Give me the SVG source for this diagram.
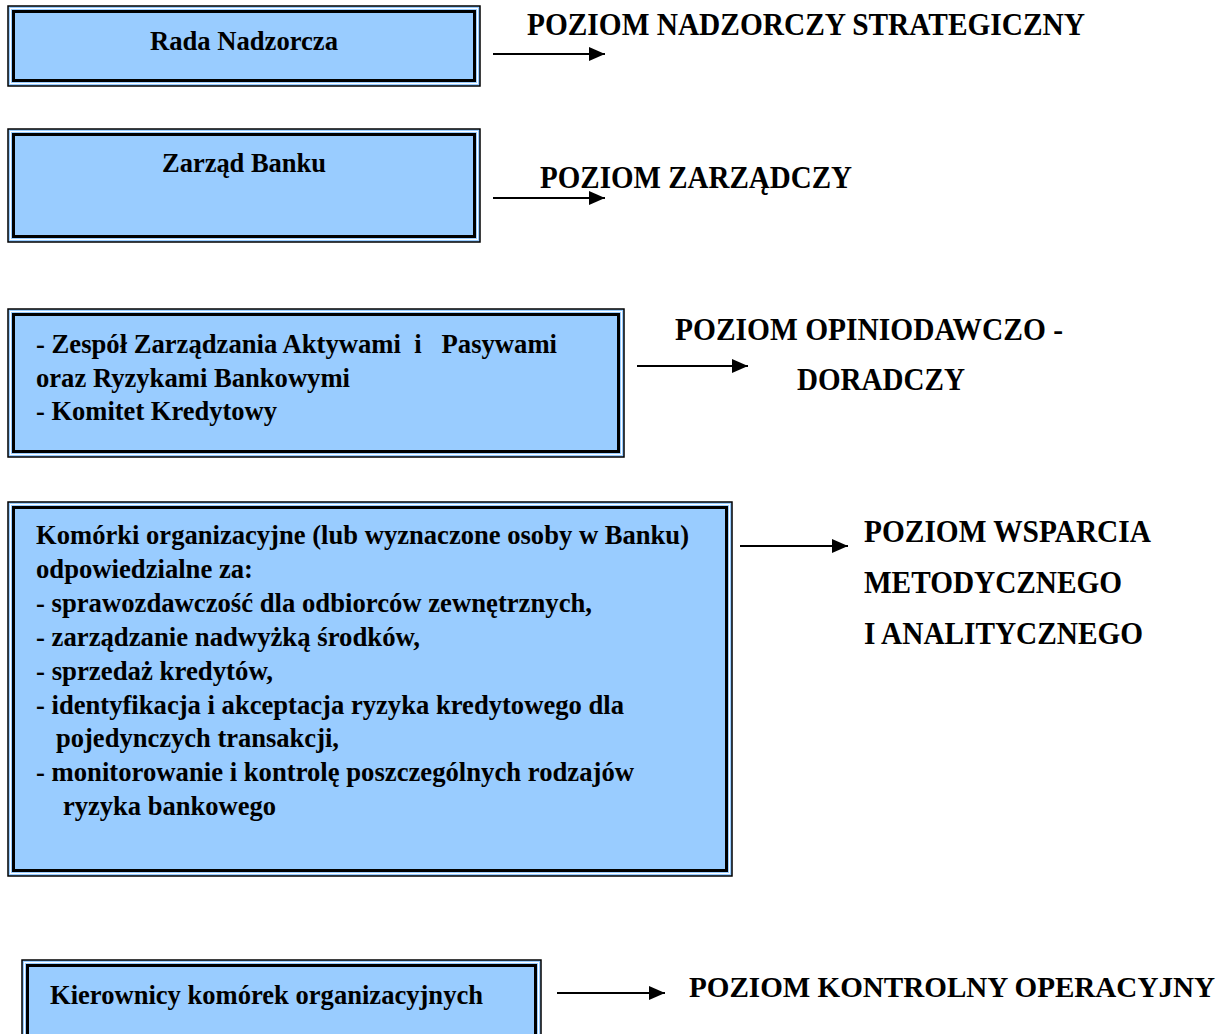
<svg xmlns="http://www.w3.org/2000/svg" width="1230" height="1034" viewBox="0 0 1230 1034">
<style>
.outer{fill:#99CCFF;stroke:#000;stroke-width:1.5}
.inner{fill:none;stroke:#000;stroke-width:3}
.gap{fill:none;stroke:#ffffff;stroke-width:1}
.bt{font-family:'Liberation Serif','Times New Roman',serif;font-weight:bold;font-size:27.5px;fill:#000}
.lt{font-family:'Liberation Serif','Times New Roman',serif;font-weight:bold;font-size:30.5px;fill:#000}
.conn line{stroke:#000;stroke-width:2;marker-end:url(#ah)}
</style>
<defs>
<marker id="ah" markerUnits="userSpaceOnUse" markerWidth="17" markerHeight="14" refX="16" refY="7" orient="auto">
<path d="M0,0 L16,7 L0,14 z" fill="#000"/>
</marker>
</defs>
<rect width="1230" height="1034" fill="#fff"/>

<g id="rada">
<rect class="outer" x="8" y="6" width="472" height="80"/>
<rect class="gap" x="10.5" y="8.5" width="467" height="75"/>
<rect class="inner" x="13.5" y="11.5" width="461" height="69"/>
<text class="bt" x="150" y="49.5" textLength="188" lengthAdjust="spacingAndGlyphs">Rada Nadzorcza</text>
</g>

<g id="zarzad">
<rect class="outer" x="8" y="129" width="472" height="113"/>
<rect class="gap" x="10.5" y="131.5" width="467" height="108"/>
<rect class="inner" x="13.5" y="134.5" width="461" height="102"/>
<text class="bt" x="162" y="171.5" textLength="164" lengthAdjust="spacingAndGlyphs">Zarząd Banku</text>
</g>

<g id="zespol">
<rect class="outer" x="8" y="309" width="616" height="148"/>
<rect class="gap" x="10.5" y="311.5" width="611" height="143"/>
<rect class="inner" x="13.5" y="314.5" width="605" height="137"/>
<text class="bt" x="36" y="352.5" xml:space="preserve" textLength="521" lengthAdjust="spacingAndGlyphs">- Zespół Zarządzania Aktywami  i   Pasywami</text>
<text class="bt" x="36" y="386.5" textLength="314" lengthAdjust="spacingAndGlyphs">oraz Ryzykami Bankowymi</text>
<text class="bt" x="36" y="419.5" textLength="241" lengthAdjust="spacingAndGlyphs">- Komitet Kredytowy</text>
</g>

<g id="komorki">
<rect class="outer" x="8" y="502" width="724" height="374"/>
<rect class="gap" x="10.5" y="504.5" width="719" height="369"/>
<rect class="inner" x="13.5" y="507.5" width="713" height="363"/>
<text class="bt" x="36" y="543.5" textLength="653" lengthAdjust="spacingAndGlyphs">Komórki organizacyjne (lub wyznaczone osoby w Banku)</text>
<text class="bt" x="36" y="577.5" textLength="217" lengthAdjust="spacingAndGlyphs">odpowiedzialne za:</text>
<text class="bt" x="36" y="611.5" textLength="556" lengthAdjust="spacingAndGlyphs">- sprawozdawczość dla odbiorców zewnętrznych,</text>
<text class="bt" x="36" y="645.5" textLength="384" lengthAdjust="spacingAndGlyphs">- zarządzanie nadwyżką środków,</text>
<text class="bt" x="36" y="679.5" textLength="237" lengthAdjust="spacingAndGlyphs">- sprzedaż kredytów,</text>
<text class="bt" x="36" y="713.5" textLength="588" lengthAdjust="spacingAndGlyphs">- identyfikacja i akceptacja ryzyka kredytowego dla</text>
<text class="bt" x="56" y="746.5" textLength="283" lengthAdjust="spacingAndGlyphs">pojedynczych transakcji,</text>
<text class="bt" x="36" y="780.5" textLength="598" lengthAdjust="spacingAndGlyphs">- monitorowanie i kontrolę poszczególnych rodzajów</text>
<text class="bt" x="63" y="814.5" textLength="213" lengthAdjust="spacingAndGlyphs">ryzyka bankowego</text>
</g>

<g id="kierownicy">
<rect class="outer" x="22" y="960" width="519" height="90"/>
<rect class="gap" x="24.5" y="962.5" width="514" height="85"/>
<rect class="inner" x="27.5" y="965.5" width="508" height="80"/>
<text class="bt" x="50" y="1003.5" textLength="433" lengthAdjust="spacingAndGlyphs">Kierownicy komórek organizacyjnych</text>
</g>

<g id="poziom-nadzorczy">
<text class="lt" x="527" y="34.5" textLength="558" lengthAdjust="spacingAndGlyphs">POZIOM NADZORCZY STRATEGICZNY</text>
</g>
<g id="poziom-zarzadczy">
<text class="lt" x="540" y="187.5" textLength="312" lengthAdjust="spacingAndGlyphs">POZIOM ZARZĄDCZY</text>
</g>
<g id="poziom-opiniodawczy">
<text class="lt" x="675" y="339.5" textLength="388" lengthAdjust="spacingAndGlyphs">POZIOM OPINIODAWCZO -</text>
<text class="lt" x="797" y="389.5" textLength="168" lengthAdjust="spacingAndGlyphs">DORADCZY</text>
</g>
<g id="poziom-wsparcia">
<text class="lt" x="864" y="541.5" textLength="287" lengthAdjust="spacingAndGlyphs">POZIOM WSPARCIA</text>
<text class="lt" x="864" y="592.5" textLength="258" lengthAdjust="spacingAndGlyphs">METODYCZNEGO</text>
<text class="lt" x="864" y="643.5" textLength="279" lengthAdjust="spacingAndGlyphs">I ANALITYCZNEGO</text>
</g>
<g id="poziom-kontrolny">
<text class="lt" style="font-size:28.5px" x="689" y="997" textLength="526" lengthAdjust="spacingAndGlyphs">POZIOM KONTROLNY OPERACYJNY</text>
</g>

<g id="connectors" class="conn">
<line x1="493" y1="54" x2="605" y2="54"/>
<line x1="493" y1="198" x2="605" y2="198"/>
<line x1="637" y1="366" x2="748" y2="366"/>
<line x1="740" y1="546" x2="848" y2="546"/>
<line x1="557" y1="993" x2="665" y2="993"/>
</g>
</svg>
